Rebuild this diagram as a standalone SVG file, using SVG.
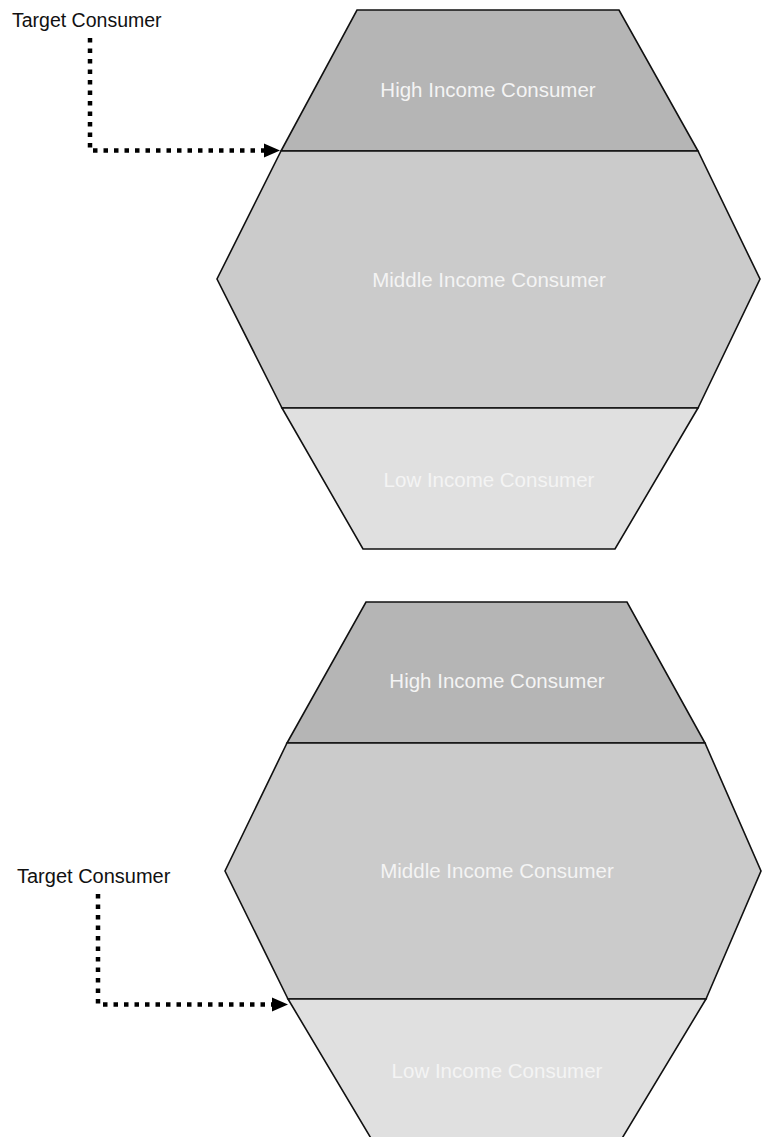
<svg xmlns="http://www.w3.org/2000/svg" width="762" height="1137" viewBox="0 0 762 1137">
  <defs>
    <style>
      .seg { stroke: #111; stroke-width: 1.6; stroke-linejoin: miter; }
      .high { fill: #b5b5b5; }
      .mid { fill: #cbcbcb; }
      .low { fill: #e0e0e0; }
      .in { font-family: "Liberation Sans", Arial, sans-serif; font-size: 20.5px; fill: #f4f4f4; text-anchor: middle; }
      .lbl { font-family: "Liberation Sans", Arial, sans-serif; font-size: 19.5px; fill: #111; }
      .dot { fill: none; stroke: #000; stroke-width: 4.5; stroke-dasharray: 4.5 6; }
    </style>
    <marker id="arrow" markerUnits="userSpaceOnUse" markerWidth="18" markerHeight="16" refX="0" refY="8" orient="auto">
      <path d="M0,1 L16,8 L0,15 Z" fill="#000"/>
    </marker>
  </defs>
  <rect width="762" height="1137" fill="#ffffff"/>

  <!-- Top hexagon -->
  <g id="top-high">
    <polygon class="seg high" points="357,10 619,10 698,151 281,151"/>
    <text class="in" x="488" y="97">High Income Consumer</text>
  </g>
  <g id="top-middle">
    <polygon class="seg mid" points="281,151 698,151 760,279 698,408 282,408 217,279"/>
    <text class="in" x="489" y="287">Middle Income Consumer</text>
  </g>
  <g id="top-low">
    <polygon class="seg low" points="282,408 698,408 615,549 363,549"/>
    <text class="in" x="489" y="487">Low Income Consumer</text>
  </g>
  <g id="top-label">
    <text class="lbl" x="12" y="27">Target Consumer</text>
  </g>

  <!-- Bottom hexagon -->
  <g id="bottom-high">
    <polygon class="seg high" points="366,602 627,602 705,743 287,743"/>
    <text class="in" x="497" y="688">High Income Consumer</text>
  </g>
  <g id="bottom-middle">
    <polygon class="seg mid" points="287,743 705,743 761,871 706,999 288,999 225,871"/>
    <text class="in" x="497" y="878">Middle Income Consumer</text>
  </g>
  <g id="bottom-low">
    <polygon class="seg low" points="288,999 706,999 618,1145 375,1145"/>
    <text class="in" x="497" y="1078">Low Income Consumer</text>
  </g>
  <g id="bottom-label">
    <text class="lbl" x="17" y="883" style="font-size:20px">Target Consumer</text>
  </g>

  <!-- Connectors -->
  <g id="connectors">
    <path class="dot" d="M90,38 V150.5 H264" marker-end="url(#arrow)"/>
    <path class="dot" d="M98,894 V1004.5 H272" marker-end="url(#arrow)"/>
  </g>
</svg>
